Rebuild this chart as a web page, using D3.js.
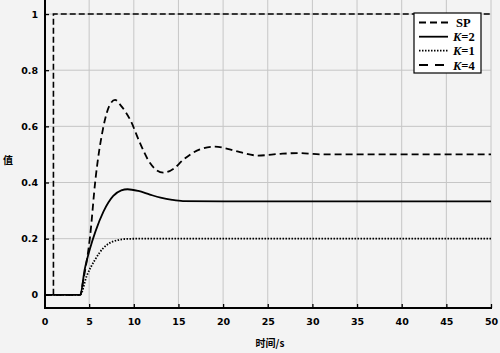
<!DOCTYPE html>
<html><head><meta charset="utf-8">
<script src="https://cdn.jsdelivr.net/npm/d3@7"></script>
<style>
html,body{margin:0;padding:0;background:#f3f3f3;}
svg{display:block;}
</style></head>
<body>
<svg id="c" width="500" height="353"></svg>
<script>
// ---- data ----
const xTicks = [0,5,10,15,20,25,30,35,40,45,50];
const yTicks = [0,0.2,0.4,0.6,0.8,1];
const yTickLabels = ["0","0.2","0.4","0.6","0.8","1"];

const spTime = [0,1,1,50];
const spVal  = [0,0,1,1];

const k2Time = [0,4,4.5,5.1,5.7,6.6,7.7,8.6,9.3,10.5,11.8,13.0,14.3,15.5,20,30,40,50];
const k2Val  = [0,0,0.09,0.165,0.225,0.296,0.352,0.372,0.376,0.370,0.357,0.346,0.338,0.334,0.333,0.333,0.333,0.333];

const k1Time = [0,4,4.7,5.66,6.6,7.7,9.2,11,15,20,30,40,50];
const k1Val  = [0,0,0.065,0.125,0.167,0.19,0.199,0.2,0.2,0.2,0.2,0.2,0.2];

const k4Time = [0,4,4.35,5.1,5.7,6.6,7.3,7.9,8.6,9.6,10.7,11.8,13.3,14.5,15.5,17.4,19.1,20.5,21.9,23.9,26.4,28.6,31,35,40,45,50];
const k4Val  = [0,0,0.053,0.207,0.409,0.599,0.676,0.694,0.672,0.623,0.54,0.47,0.435,0.45,0.48,0.518,0.528,0.52,0.508,0.496,0.502,0.505,0.5,0.5,0.5,0.5,0.5];

const legendLabels = [["SP",""],["K","=2"],["K","=1"],["K","=4"]];

// ---- drawing ----
const svg = d3.select("#c");
const x = d3.scaleLinear().domain([0,50]).range([44.5,491]);
const y = d3.scaleLinear().domain([-0.047,1.05]).range([308,0]);

// grid
const g = svg.append("g");
g.selectAll(".gx").data(xTicks.slice(1)).enter().append("line")
  .attr("x1",d=>x(d)).attr("x2",d=>x(d)).attr("y1",y(-0.047)).attr("y2",0)
  .attr("stroke","#c6c6c6").attr("stroke-width",1);
g.selectAll(".gy").data(yTicks.slice(1)).enter().append("line")
  .attr("x1",x(0)).attr("x2",x(50)).attr("y1",d=>y(d)).attr("y2",d=>y(d))
  .attr("stroke","#c6c6c6").attr("stroke-width",1);

// axes
const xAxis = d3.axisBottom(x).tickValues(xTicks).tickSize(-4).tickPadding(10).tickFormat(d3.format("d"));
const yAxis = d3.axisLeft(y).tickValues(yTicks).tickSize(-4).tickPadding(7).tickFormat((d,i)=>yTickLabels[i]);
const ax = svg.append("g").attr("transform","translate(0,308)").call(xAxis);
const ay = svg.append("g").attr("transform","translate(45,0)").call(yAxis);
[ax,ay].forEach(a=>{
  a.select(".domain").attr("stroke","#000").attr("stroke-width",2);
  a.selectAll(".tick line").attr("stroke","#000").attr("stroke-width",1.3);
  a.selectAll("text").attr("fill","#000").attr("font-family","DejaVu Sans, sans-serif")
    .attr("font-weight","bold").attr("font-size","9.5px");
});
ax.select(".domain").attr("d","M44,0H492");
ay.select(".domain").attr("d","M0,0V309");

// lines
const lineGen = d3.line().x(d=>x(d[0])).y(d=>y(d[1]));
const smooth = d3.line().x(d=>x(d[0])).y(d=>y(d[1])).curve(d3.curveMonotoneX);
const zip = (a,b)=>a.map((t,i)=>[t,b[i]]);

svg.append("path").datum(zip(spTime,spVal)).attr("d",lineGen)
  .attr("fill","none").attr("stroke","#000").attr("stroke-width",1.6).attr("stroke-dasharray","6,3");
svg.append("path").datum(zip(k2Time,k2Val)).attr("d",smooth)
  .attr("fill","none").attr("stroke","#000").attr("stroke-width",1.8);
svg.append("path").datum(zip(k1Time,k1Val)).attr("d",smooth)
  .attr("fill","none").attr("stroke","#000").attr("stroke-width",1.8).attr("stroke-dasharray","1.5,1.5");
svg.append("path").datum(zip(k4Time,k4Val)).attr("d",smooth)
  .attr("fill","none").attr("stroke","#000").attr("stroke-width",1.8).attr("stroke-dasharray","7,4");

// axis titles
svg.append("text").attr("x",270).attr("y",347).attr("text-anchor","middle")
  .attr("font-family","Noto Sans CJK SC, sans-serif").attr("font-weight","bold").attr("font-size","10px")
  .text("时间/s");
svg.append("text").attr("x",8).attr("y",164).attr("text-anchor","middle")
  .attr("font-family","Noto Sans CJK SC, sans-serif").attr("font-weight","bold").attr("font-size","10px")
  .text("值");

// legend
const lg = svg.append("g");
lg.append("rect").attr("x",414).attr("y",13).attr("width",67).attr("height",60)
  .attr("fill","#fff").attr("stroke","#000").attr("stroke-width",1.2);
const dashes = ["7,4","none","1.5,1.5","9,7"];
const rowY = [22.5,36.7,50.7,65];
legendLabels.forEach((lab,i)=>{
  lg.append("line").attr("x1",419).attr("x2",448).attr("y1",rowY[i]).attr("y2",rowY[i])
    .attr("stroke","#000").attr("stroke-width",1.8).attr("stroke-dasharray",dashes[i]);
  const t = lg.append("text").attr("x",lab[1]===""?456:453).attr("y",rowY[i]+4.5)
    .attr("font-family","Liberation Serif, serif").attr("font-weight","bold").attr("font-size","12.5px");
  if(lab[1]===""){ t.text(lab[0]); }
  else {
    t.append("tspan").attr("font-style","italic").text(lab[0]);
    t.append("tspan").text(lab[1]);
  }
});
</script>
</body></html>
